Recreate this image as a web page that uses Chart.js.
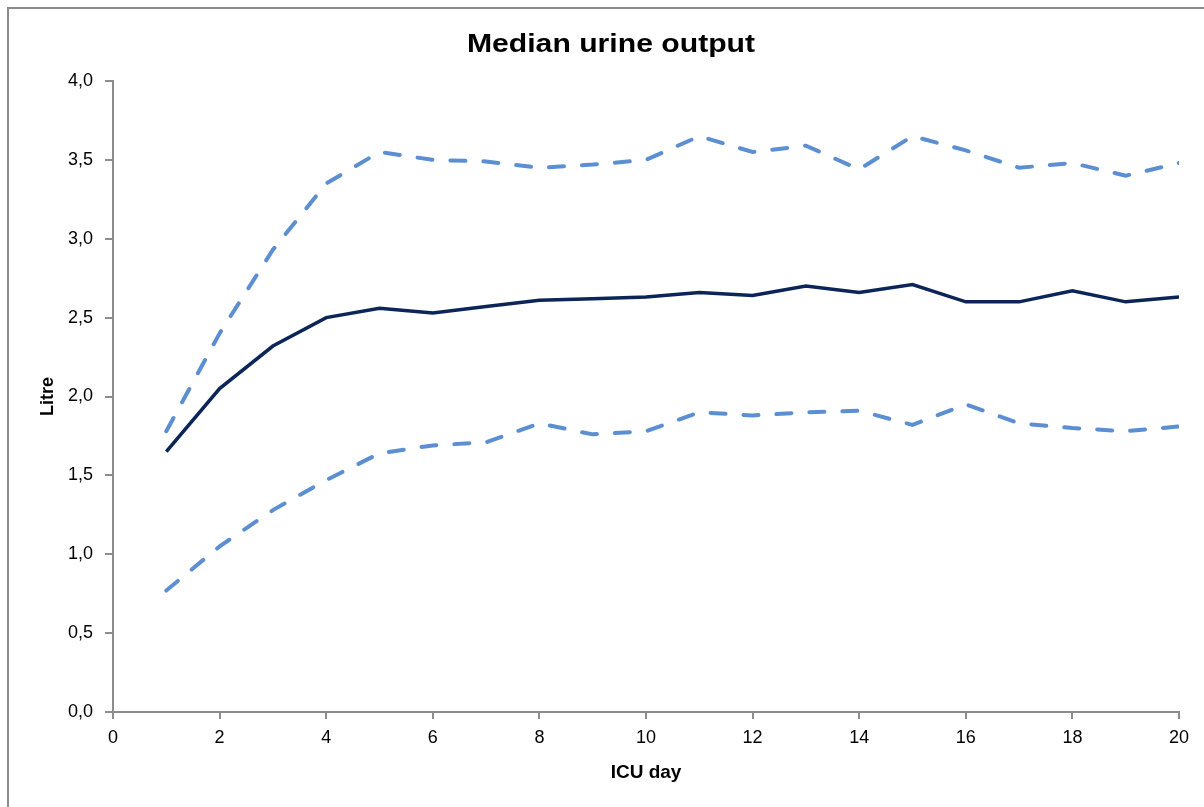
<!DOCTYPE html>
<html>
<head>
<meta charset="utf-8">
<script src="https://cdn.jsdelivr.net/npm/chart.js@4.4.1/dist/chart.umd.min.js"></script>
<style>
  html, body { margin: 0; padding: 0; background: #fff; }
  #wrap { position: relative; width: 1204px; height: 807px; overflow: hidden; }
  #frame { position: absolute; left: 7px; top: 7px; width: 1300px; height: 900px;
           border-left: 2px solid #8c8c8c; border-top: 2px solid #8c8c8c; }
  canvas { position: absolute; left: 0; top: 0; }
</style>
</head>
<body>
<div id="wrap">
  <div id="frame"></div>
  <canvas id="urine" width="1204" height="807"></canvas>
</div>
<script>
// ICU dag 1..20
const days = [1, 2, 3, 4, 5, 6, 7, 8, 9, 10, 11, 12, 13, 14, 15, 16, 17, 18, 19, 20];
// median + kwartielen (liter)
const median = [1.65, 2.05, 2.32, 2.50, 2.56, 2.53, 2.57, 2.61, 2.62, 2.63, 2.66, 2.64, 2.70, 2.66, 2.71, 2.60, 2.60, 2.67, 2.60, 2.63];
const upper  = [1.78, 2.40, 2.93, 3.35, 3.55, 3.50, 3.49, 3.45, 3.47, 3.50, 3.65, 3.55, 3.59, 3.44, 3.65, 3.56, 3.45, 3.48, 3.40, 3.48];
const lower  = [0.77, 1.05, 1.28, 1.47, 1.64, 1.69, 1.71, 1.83, 1.76, 1.78, 1.90, 1.88, 1.90, 1.91, 1.82, 1.95, 1.83, 1.80, 1.78, 1.81];
const chartTitle = 'Median urine output';

const sans = "'Liberation Sans', Arial, sans-serif";
const pts = arr => arr.map((v, i) => ({ x: days[i], y: v }));

// titel zelf tekenen: iets breder uitgerekt zoals in het origineel
const titlePlugin = {
    id: 'wideTitle',
    afterDraw(chart) {
        const ctx = chart.ctx;
        ctx.save();
        ctx.translate(611, 52);
        ctx.scale(1.16, 1);
        ctx.font = "bold 26px " + sans;
        ctx.fillStyle = '#000';
        ctx.textAlign = 'center';
        ctx.textBaseline = 'alphabetic';
        ctx.fillText(chartTitle, 0, 0);
        ctx.restore();
    }
};

new Chart(document.getElementById('urine'), {
    type: 'line',
    data: {
        datasets: [
            { data: pts(upper), borderColor: '#5b8fd2', borderWidth: 4, borderDash: [15, 18], borderCapStyle: 'round' },
            { data: pts(lower), borderColor: '#5b8fd2', borderWidth: 4, borderDash: [15, 18], borderCapStyle: 'round' },
            { data: pts(median), borderColor: '#0b2559', borderWidth: 3.5 }
        ]
    },
    plugins: [titlePlugin],
    options: {
        responsive: false,
        animation: false,
        layout: { padding: { left: 0, right: 25, top: 81, bottom: 0 } },
        elements: { point: { radius: 0 }, line: { tension: 0 } },
        plugins: {
            legend: { display: false },
            tooltip: { enabled: false },
            title: { display: false }
        },
        scales: {
            x: {
                type: 'linear', min: 0, max: 20,
                border: { color: '#8c8c8c', width: 2 },
                grid: { drawOnChartArea: false, drawTicks: true, tickLength: 7, color: '#8c8c8c', lineWidth: 2 },
                ticks: { stepSize: 2, padding: 8, color: '#000', font: { family: sans, size: 18 }, maxRotation: 0 },
                title: { display: true, text: 'ICU day', color: '#000', font: { family: sans, size: 19, weight: 'bold' }, padding: { top: 0, bottom: 23 } },
                afterFit: s => { s.height = 807 - 712; }
            },
            y: {
                min: 0, max: 4,
                border: { color: '#8c8c8c', width: 2 },
                grid: { drawOnChartArea: false, drawTicks: true, tickLength: 8, color: '#8c8c8c', lineWidth: 2 },
                ticks: { stepSize: 0.5, padding: 12, color: '#000', font: { family: sans, size: 18 },
                         callback: v => v.toFixed(1).replace('.', ',') },
                title: { display: true, text: 'Litre', color: '#000', font: { family: sans, size: 18, weight: 'bold' }, padding: { top: 37, bottom: 0 } },
                afterFit: s => { s.width = 113; }
            }
        }
    }
});
</script>
</body>
</html>
